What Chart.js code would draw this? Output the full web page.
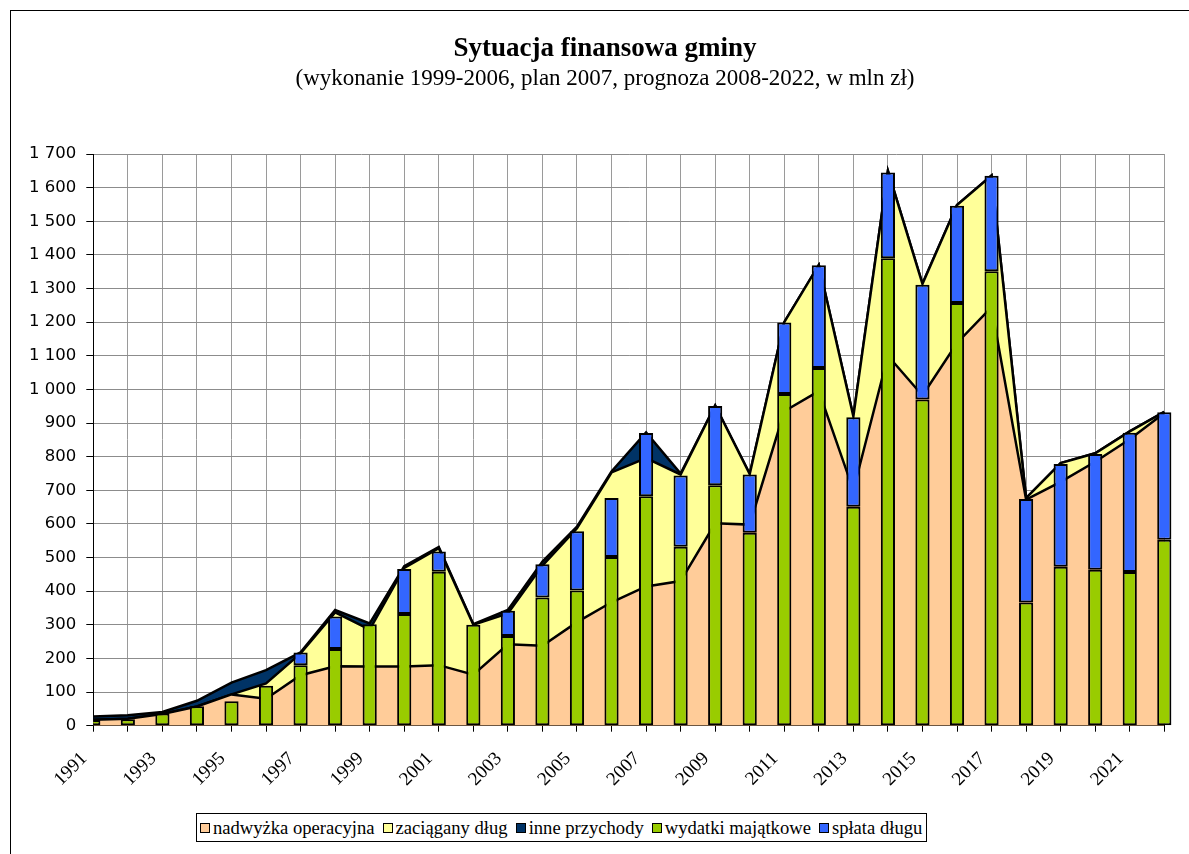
<!DOCTYPE html>
<html><head><meta charset="utf-8">
<script src="https://cdn.jsdelivr.net/npm/chart.js@4.4.1/dist/chart.umd.min.js"></script>
<style>
html,body{margin:0;padding:0;background:#fff;overflow:hidden;width:1189px;height:854px;}
#frame{position:absolute;left:10px;top:10px;width:1300px;height:900px;border-left:1px solid #000;border-top:1px solid #000;box-sizing:border-box;}
#wrap{position:absolute;left:10px;top:10px;width:1190px;height:844px;}
#legend{position:absolute;left:196px;top:813px;height:27px;border:1px solid #000;display:flex;align-items:center;padding:0 4px 0 3px;font-family:"Liberation Serif","Times New Roman",Times,serif;font-size:18.6px;white-space:nowrap;background:#fff;color:#000;}
.item{display:flex;align-items:center;margin-right:8px;}
.item:last-child{margin-right:0;}
.sw{width:8px;height:8px;border:1.5px solid #000;margin-right:3px;}
</style></head>
<body>
<div id="frame"></div>
<div id="wrap"><canvas id="c"></canvas></div>
<div id="legend"></div>
<script>
const years = ['1991','1992','1993','1994','1995','1996','1997','1998','1999','2000','2001','2002','2003','2004','2005','2006','2007','2008','2009','2010','2011','2012','2013','2014','2015','2016','2017','2018','2019','2020','2021','2022'];
const yTicks = [0,100,200,300,400,500,600,700,800,900,1000,1100,1200,1300,1400,1500,1600,1700];
const nadwyzkaOperacyjna = [18,21,35,57,93,80,150,177,176,176,180,152,242,238,308,367,414,430,602,598,935,995,700,1100,982,1138,1245,672,725,785,852,930];
const zaciaganyDlug = [0,0,0,0,0,46,65,160,110,293,348,148,92,238,279,386,382,317,350,150,265,375,220,550,332,410,391,5,56,25,23,3];
const innePrzychody = [9,10,6,17,35,39,3,7,18,5,3,2,10,12,5,3,76,3,0,0,0,0,0,0,0,0,0,0,0,0,0,0];
const wydatkiMajatkowe = [17,19,36,58,73,119,180,228,302,332,458,300,267,381,402,502,682,532,715,574,986,1064,651,1390,970,1257,1351,366,473,464,457,553];
const splataDlugu = [0,0,0,0,0,0,38,97,0,134,60,0,75,99,176,175,188,212,236,173,213,305,266,255,341,289,284,308,305,344,414,379];

const seriesLabels = ['nadwyżka operacyjna','zaciągany dług','inne przychody','wydatki majątkowe','spłata długu'];
const colors = ['#FFCC99','#FFFF99','#003366','#99CC00','#3366FF'];
const serif = "'Liberation Serif', 'Times New Roman', Times, serif";

function fmt(v){
  if (v >= 1000) { const r = String(v % 1000).padStart(3,'0'); return Math.floor(v/1000) + ' ' + r; }
  return String(v);
}

const areaBase = {type:'line', borderColor:'#000', borderWidth:2.5, pointRadius:0, pointHoverRadius:0, tension:0, stack:'area', order:2};
const barClip = {left:0, top:false, right:false, bottom:0};
const barBase = {type:'bar', borderColor:'#000', borderWidth:2, borderSkipped:false, stack:'bars', order:1, barPercentage:0.41, categoryPercentage:1, clip:barClip};

const data = {
  labels: years,
  datasets: [
    Object.assign({}, areaBase, {label:seriesLabels[0], data:nadwyzkaOperacyjna, backgroundColor:colors[0], fill:'origin'}),
    Object.assign({}, areaBase, {label:seriesLabels[1], data:zaciaganyDlug, backgroundColor:colors[1], fill:'-1'}),
    Object.assign({}, areaBase, {label:seriesLabels[2], data:innePrzychody, backgroundColor:colors[2], fill:'-1'}),
    Object.assign({}, barBase, {label:seriesLabels[3], data:wydatkiMajatkowe, backgroundColor:colors[3]}),
    Object.assign({}, barBase, {label:seriesLabels[4], data:splataDlugu, backgroundColor:colors[4]})
  ]
};

// center title/subtitle across the whole canvas (not just left of the right padding)
const centerTitles = {
  id:'centerTitles',
  afterLayout(chart){
    chart.boxes.forEach(b=>{
      if (b.position === 'top' && b.options && typeof b.options.text === 'string') {
        b.left = 0; b.right = chart.width; b.width = chart.width;
      }
    });
  }
};

new Chart(document.getElementById('c'), {
  type:'bar',
  data,
  plugins:[centerTitles],
  options:{
    responsive:true, maintainAspectRatio:false, animation:false,
    layout:{padding:{left:0,right:35.7,top:0,bottom:68.3}},
    plugins:{
      legend:{display:false},
      tooltip:{enabled:false},
      title:{display:true, text:'Sytuacja finansowa gminy', color:'#000', font:{family:serif, size:27, weight:'bold'}, padding:{top:23,bottom:0}},
      subtitle:{display:true, text:'(wykonanie 1999-2006, plan 2007, prognoza 2008-2022, w mln zł)', color:'#000', font:{family:serif, size:23}, padding:{top:0,bottom:61}}
    },
    scales:{
      x:{type:'category', offset:false, stacked:true,
         grid:{offset:false, color:'#9a9a9a', lineWidth:1, tickColor:'#000', tickLength:6, drawTicks:true},
         border:{color:'#000', width:1},
         ticks:{autoSkip:false, maxRotation:45, minRotation:45, padding:16, labelOffset:-9, color:'#000', font:{family:serif, size:19},
                callback:function(v,i){ return i % 2 === 0 ? years[i] : ''; }},
         afterFit:function(s){ s.height = 60; }},
      y:{stacked:true, min:yTicks[0], max:yTicks[yTicks.length-1],
         afterBuildTicks:function(s){ s.ticks = yTicks.map(v=>({value:v})); },
         grid:{color:'#8c8c8c', lineWidth:1, tickColor:'#000', tickLength:7},
         border:{color:'#000', width:1},
         ticks:{padding:10, color:'#000', font:{family:'DejaVu Sans', size:16.5}, callback:function(v){ return fmt(v); }},
         afterFit:function(s){ s.width = 83.3; }}
    }
  }
});

const lg = document.getElementById('legend');
seriesLabels.forEach((t,i)=>{
  const it = document.createElement('span'); it.className='item';
  const sw = document.createElement('span'); sw.className='sw'; sw.style.background = colors[i];
  const tx = document.createElement('span'); tx.textContent = t;
  it.appendChild(sw); it.appendChild(tx); lg.appendChild(it);
});
</script>
</body></html>
